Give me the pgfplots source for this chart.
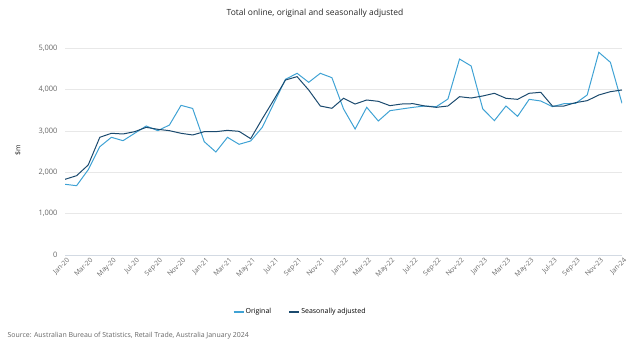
\documentclass[border=0pt]{standalone}
\usepackage{pgfplots}
\pgfplotsset{compat=1.18}
\usepackage{fontspec}
\setmainfont{Open Sans}
\definecolor{orig}{HTML}{3FA2D4}
\definecolor{sadj}{HTML}{1B4A6E}
\definecolor{gridc}{HTML}{E8E8E8}
\definecolor{axc}{HTML}{D3DAE3}
\definecolor{tickc}{HTML}{666666}
\begin{document}
\begin{tikzpicture}[x=1bp,y=1bp]
\path (0,0) rectangle (630,350);
\node[font=\fontsize{8.5}{10}\selectfont, text=black!85] at (315,337) {Total online, original and seasonally adjusted};
\node[font=\fontsize{7}{8}\selectfont, rotate=90, text=black!85] at (18,200) {\$m};
\node[font=\fontsize{7}{8}\selectfont, text=tickc, anchor=west] at (4,14) {Source: Australian Bureau of Statistics, Retail Trade, Australia January 2024};
\begin{axis}[
  at={(65bp,95bp)}, anchor=south west,
  scale only axis, width=557bp, height=207bp,
  xmin=0, xmax=48, ymin=0, ymax=5000,
  axis lines*=left,
  y axis line style={draw=none},
  x axis line style={draw=axc, line width=0.8pt, -},
  ytick={0,1000,2000,3000,4000,5000},
  ymajorgrids, grid style={gridc, line width=0.6pt},
  xtick={0,2,...,48},
  xticklabels={Jan-20,Mar-20,May-20,Jul-20,Sep-20,Nov-20,Jan-21,Mar-21,May-21,Jul-21,Sep-21,Nov-21,Jan-22,Mar-22,May-22,Jul-22,Sep-22,Nov-22,Jan-23,Mar-23,May-23,Jul-23,Sep-23,Nov-23,Jan-24},
  major tick length=0pt,
  tick style={draw=none},
  /pgf/number format/assume math mode=true,
  /pgf/number format/1000 sep={,},
  yticklabel style={font=\fontsize{7.5}{9}\selectfont, text=tickc, xshift=-4bp},
  xticklabel style={font=\fontsize{6.8}{8}\selectfont, text=tickc, rotate=45, anchor=north east, inner sep=0.5pt, yshift=-2bp},
  legend style={at={(0.422,-0.275)}, anchor=center, draw=none, font=\fontsize{7}{8}\selectfont, legend columns=2, nodes={inner sep=1.5pt}, /tikz/every even column/.append style={column sep=16bp}},
  legend cell align=left,
  legend image code/.code={\draw[#1, line width=1.2pt] (0cm,0cm) -- (0.35cm,0cm);},
]
\addplot[orig, line width=1pt] coordinates {
(0,1708)(1,1674)(2,2060)(3,2616)(4,2843)(5,2761)(6,2940)(7,3116)(8,3003)(9,3140)(10,3615)(11,3540)
(12,2737)(13,2488)(14,2843)(15,2674)(16,2754)(17,3084)(18,3664)(19,4244)(20,4389)(21,4171)(22,4389)(23,4283)
(24,3530)(25,3043)(26,3567)(27,3237)(28,3486)(29,3527)(30,3567)(31,3599)(32,3583)(33,3768)(34,4734)(35,4565)
(36,3530)(37,3245)(38,3599)(39,3349)(40,3760)(41,3720)(42,3583)(43,3655)(44,3664)(45,3865)(46,4896)(47,4654)
(48,3664)};
\addlegendentry{Original}
\addplot[sadj, line width=1pt] coordinates {
(0,1828)(1,1916)(2,2174)(3,2843)(4,2940)(5,2923)(6,2979)(7,3084)(8,3036)(9,3003)(10,2940)(11,2899)
(12,2979)(13,2979)(14,3011)(15,2987)(16,2810)(17,3290)(18,3750)(19,4227)(20,4308)(21,3986)(22,3599)(23,3543)
(24,3785)(25,3647)(26,3744)(27,3712)(28,3607)(29,3647)(30,3655)(31,3599)(32,3567)(33,3599)(34,3824)(35,3792)
(36,3841)(37,3906)(38,3785)(39,3760)(40,3906)(41,3930)(42,3599)(43,3599)(44,3680)(45,3728)(46,3865)(47,3945)
(48,3986)};
\addlegendentry{Seasonally adjusted}
\end{axis}
\end{tikzpicture}
\end{document}
